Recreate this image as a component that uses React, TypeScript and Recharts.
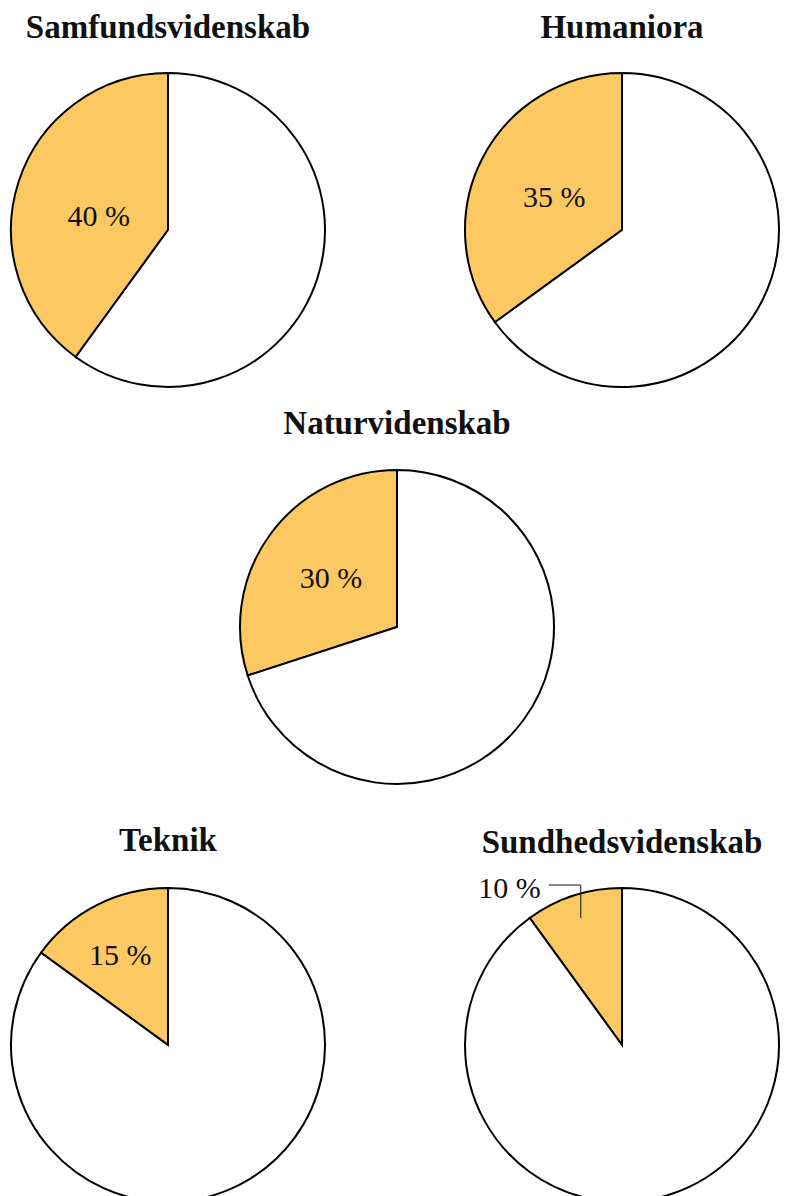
import React from 'react';
import { PieChart, Pie, Cell } from 'recharts';

const categories = ['Samfundsvidenskab', 'Humaniora', 'Naturvidenskab', 'Teknik', 'Sundhedsvidenskab'];
const shares = [40, 35, 30, 15, 10];
const restLabel = 'Øvrige';

// layout (positions only)
const centers = [
  [168, 230],
  [622, 230],
  [397, 627],
  [168, 1045],
  [622, 1045],
];
const titleBaselines = [37, 37, 433, 850, 852];
const labelRadiusFrac = [0.47, 0.47, 0.52, 0.67, -1];
const labelShift = [[1, 8], [-2, 0], [0, -2], [0, 3], [0, 0]];
const R = 157;
const ORANGE = '#FBC862';
const FONT = '"Liberation Serif", "Times New Roman", serif';
const RAD = Math.PI / 180;

function makeLabel(pieIdx: number) {
  return (props: any) => {
    const { cx, cy, midAngle, outerRadius, index, value } = props;
    if (index !== 0) return null;
    const frac = labelRadiusFrac[pieIdx];
    const cos = Math.cos(-midAngle * RAD);
    const sin = Math.sin(-midAngle * RAD);
    if (frac > 0) {
      const r = outerRadius * frac;
      return (
        <text x={cx + r * cos + labelShift[pieIdx][0]} y={cy + r * sin + labelShift[pieIdx][1]}
          textAnchor="middle" dominantBaseline="central"
          fontFamily={FONT} fontSize={30} fill="#111">{`${value} %`}</text>
      );
    }
    const r = outerRadius * 0.85;
    const px = cx + r * cos;
    const py = cy + r * sin;
    const topY = cy - outerRadius - 3;
    const endX = px - 32;
    return (
      <g>
        <polyline points={`${px},${py} ${px},${topY} ${endX},${topY}`} fill="none" stroke="#111" strokeWidth={1} />
        <text x={endX - 8} y={topY + 2} textAnchor="end" dominantBaseline="central"
          fontFamily={FONT} fontSize={30} fill="#111">{`${value} %`}</text>
      </g>
    );
  };
}

export default function App() {
  return (
    <div style={{ position: 'absolute', left: 0, top: 0, width: 786, height: 1196, overflow: 'hidden', background: '#fff' }}>
      <PieChart width={786} height={1196} margin={{ top: 0, right: 0, bottom: 0, left: 0 }}>
        {categories.map((cat, i) => {
          const data = [
            { name: cat, value: shares[i] },
            { name: restLabel, value: 100 - shares[i] },
          ];
          return (
            <Pie
              key={cat}
              data={data}
              dataKey="value"
              nameKey="name"
              cx={centers[i][0]}
              cy={centers[i][1]}
              outerRadius={R}
              innerRadius={0}
              startAngle={90}
              endAngle={450}
              stroke="#000"
              strokeWidth={2}
              labelLine={false}
              label={makeLabel(i)}
              isAnimationActive={false}
            >
              <Cell fill={ORANGE} />
              <Cell fill="#ffffff" />
            </Pie>
          );
        })}
      </PieChart>
      {categories.map((cat, i) => (
        <div key={cat} style={{
          position: 'absolute', left: centers[i][0] - 200, width: 400, top: titleBaselines[i] - 29.5,
          textAlign: 'center', fontFamily: FONT, fontWeight: 'bold', fontSize: 33, lineHeight: '38px', color: '#111',
        }}>{cat}</div>
      ))}
    </div>
  );
}
